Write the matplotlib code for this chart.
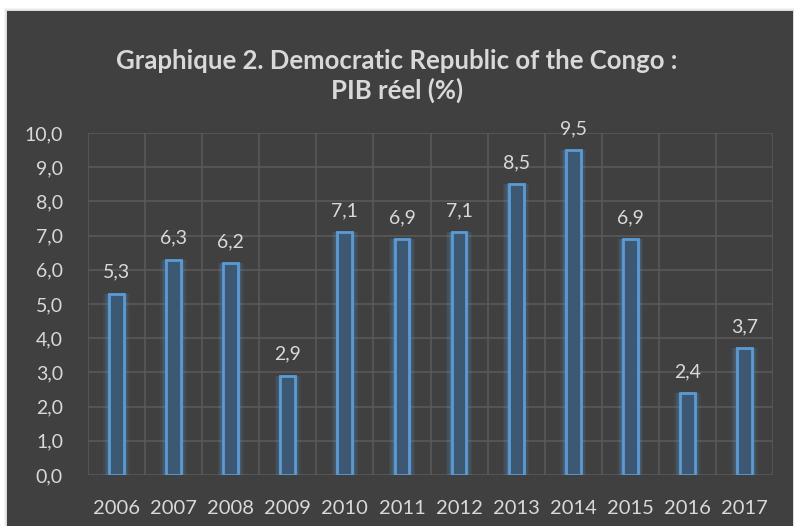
import numpy as np
import matplotlib.pyplot as plt
from matplotlib.patches import Rectangle

years = ["2006", "2007", "2008", "2009", "2010", "2011", "2012", "2013", "2014", "2015", "2016", "2017"]
pib_reel = [5.3, 6.3, 6.2, 2.9, 7.1, 6.9, 7.1, 8.5, 9.5, 6.9, 2.4, 3.7]
y_ticks = [0, 1, 2, 3, 4, 5, 6, 7, 8, 9, 10]

W, H = 794, 526
fig = plt.figure(figsize=(W / 100, H / 100), dpi=100)
fig.patch.set_facecolor("white")

# shadow + dark panel
for i, a in enumerate([0.04, 0.05, 0.06]):
    d = 3 - i
    fig.patches.append(Rectangle(((7 - d) / W, 0), (786 + 2 * d) / W, (515 + d) / H,
                                 transform=fig.transFigure, facecolor="black", alpha=a,
                                 edgecolor="none", zorder=0))
fig.patches.append(Rectangle((7 / W, 0), 786 / W, 515 / H, transform=fig.transFigure,
                             facecolor="#404040", edgecolor="none", zorder=1))

ax = fig.add_axes([88 / W, (H - 475) / H, (773 - 88) / W, (475 - 133) / H])
ax.set_facecolor("none")
ax.set_zorder(2)

x = np.arange(len(years))
bw = 0.26

# glow around the bars
for k, a in zip([0.20, 0.15, 0.10, 0.05], [0.08, 0.11, 0.14, 0.18]):
    ax.bar(x, pib_reel, width=bw + k, color="#5b9bd5", alpha=a, edgecolor="none", zorder=2)
ax.bar(x, pib_reel, width=bw, color="#3d5873", edgecolor="#5b9bd5", linewidth=2, zorder=3)

for xi, v in zip(x, pib_reel):
    ax.text(xi, v + 0.38, f"{v:.1f}".replace(".", ","), ha="center", va="bottom",
            fontsize=14, color="#d9d9d9", family="Lato")

ax.set_xlim(-0.5, len(years) - 0.5)
ax.set_ylim(0, 10)
ax.set_yticks(y_ticks)
ax.set_yticklabels([f"{t:.1f}".replace(".", ",") for t in y_ticks])
ax.set_xticks(x)
ax.set_xticklabels(years)
ax.set_xticks(np.arange(-0.5, len(years), 1), minor=True)
ax.grid(axis="y", color="#595959", linewidth=1.2, zorder=0)
ax.grid(axis="x", which="minor", color="#595959", linewidth=1.2, zorder=0)
ax.set_axisbelow(True)
ax.tick_params(which="both", length=0)
ax.tick_params(axis="y", pad=18, labelsize=14, labelcolor="#d9d9d9")
ax.tick_params(axis="x", pad=18, labelsize=14.5, labelcolor="#d9d9d9")
for lab in ax.get_xticklabels() + ax.get_yticklabels():
    lab.set_family("Lato")
for s in ax.spines.values():
    s.set_visible(False)

fig.text(0.5, (H - 76) / H, "Graphique 2. Democratic Republic of the Congo :\nPIB réel (%)",
         ha="center", va="center", fontsize=18.5, fontweight="bold", color="#d9d9d9",
         family="Lato", linespacing=1.25)

fig.savefig("out.png", dpi=100, facecolor=fig.get_facecolor())
